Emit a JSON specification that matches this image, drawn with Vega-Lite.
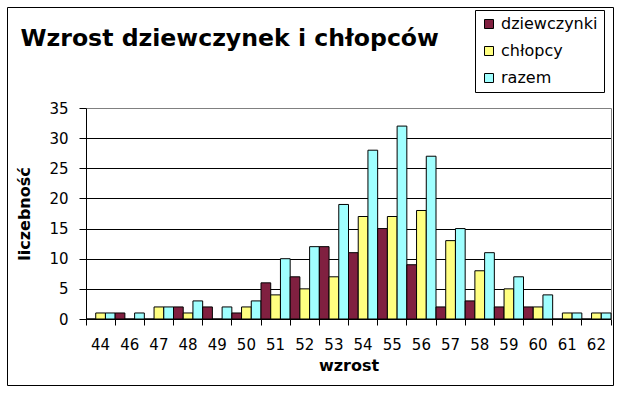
{
  "$schema": "https://vega.github.io/schema/vega-lite/v6.json",
  "width": 606,
  "height": 378,
  "autosize": {"type": "none"},
  "padding": {"left": 7, "top": 7, "right": 9, "bottom": 8},
  "background": "white",
  "data": {
    "values": [
      {"wzrost": "44", "grupa": "dziewczynki", "liczba": 0},
      {"wzrost": "44", "grupa": "chłopcy", "liczba": 1},
      {"wzrost": "44", "grupa": "razem", "liczba": 1},
      {"wzrost": "46", "grupa": "dziewczynki", "liczba": 1},
      {"wzrost": "46", "grupa": "chłopcy", "liczba": 0},
      {"wzrost": "46", "grupa": "razem", "liczba": 1},
      {"wzrost": "47", "grupa": "dziewczynki", "liczba": 0},
      {"wzrost": "47", "grupa": "chłopcy", "liczba": 2},
      {"wzrost": "47", "grupa": "razem", "liczba": 2},
      {"wzrost": "48", "grupa": "dziewczynki", "liczba": 2},
      {"wzrost": "48", "grupa": "chłopcy", "liczba": 1},
      {"wzrost": "48", "grupa": "razem", "liczba": 3},
      {"wzrost": "49", "grupa": "dziewczynki", "liczba": 2},
      {"wzrost": "49", "grupa": "chłopcy", "liczba": 0},
      {"wzrost": "49", "grupa": "razem", "liczba": 2},
      {"wzrost": "50", "grupa": "dziewczynki", "liczba": 1},
      {"wzrost": "50", "grupa": "chłopcy", "liczba": 2},
      {"wzrost": "50", "grupa": "razem", "liczba": 3},
      {"wzrost": "51", "grupa": "dziewczynki", "liczba": 6},
      {"wzrost": "51", "grupa": "chłopcy", "liczba": 4},
      {"wzrost": "51", "grupa": "razem", "liczba": 10},
      {"wzrost": "52", "grupa": "dziewczynki", "liczba": 7},
      {"wzrost": "52", "grupa": "chłopcy", "liczba": 5},
      {"wzrost": "52", "grupa": "razem", "liczba": 12},
      {"wzrost": "53", "grupa": "dziewczynki", "liczba": 12},
      {"wzrost": "53", "grupa": "chłopcy", "liczba": 7},
      {"wzrost": "53", "grupa": "razem", "liczba": 19},
      {"wzrost": "54", "grupa": "dziewczynki", "liczba": 11},
      {"wzrost": "54", "grupa": "chłopcy", "liczba": 17},
      {"wzrost": "54", "grupa": "razem", "liczba": 28},
      {"wzrost": "55", "grupa": "dziewczynki", "liczba": 15},
      {"wzrost": "55", "grupa": "chłopcy", "liczba": 17},
      {"wzrost": "55", "grupa": "razem", "liczba": 32},
      {"wzrost": "56", "grupa": "dziewczynki", "liczba": 9},
      {"wzrost": "56", "grupa": "chłopcy", "liczba": 18},
      {"wzrost": "56", "grupa": "razem", "liczba": 27},
      {"wzrost": "57", "grupa": "dziewczynki", "liczba": 2},
      {"wzrost": "57", "grupa": "chłopcy", "liczba": 13},
      {"wzrost": "57", "grupa": "razem", "liczba": 15},
      {"wzrost": "58", "grupa": "dziewczynki", "liczba": 3},
      {"wzrost": "58", "grupa": "chłopcy", "liczba": 8},
      {"wzrost": "58", "grupa": "razem", "liczba": 11},
      {"wzrost": "59", "grupa": "dziewczynki", "liczba": 2},
      {"wzrost": "59", "grupa": "chłopcy", "liczba": 5},
      {"wzrost": "59", "grupa": "razem", "liczba": 7},
      {"wzrost": "60", "grupa": "dziewczynki", "liczba": 2},
      {"wzrost": "60", "grupa": "chłopcy", "liczba": 2},
      {"wzrost": "60", "grupa": "razem", "liczba": 4},
      {"wzrost": "61", "grupa": "dziewczynki", "liczba": 0},
      {"wzrost": "61", "grupa": "chłopcy", "liczba": 1},
      {"wzrost": "61", "grupa": "razem", "liczba": 1},
      {"wzrost": "62", "grupa": "dziewczynki", "liczba": 0},
      {"wzrost": "62", "grupa": "chłopcy", "liczba": 1},
      {"wzrost": "62", "grupa": "razem", "liczba": 1}
    ]
  },
  "layer": [
    {
      "mark": {"type": "bar", "stroke": "black", "strokeWidth": 1},
      "encoding": {
        "x": {
          "field": "wzrost",
          "type": "nominal",
          "sort": null,
          "scale": {"range": [79, 604], "paddingInner": 0, "paddingOuter": 0},
          "axis": {
            "orient": "bottom",
            "offset": -66,
            "title": "wzrost",
            "labelAngle": 0,
            "ticks": false,
            "tickSize": 0,
            "domain": true,
            "domainColor": "black",
            "domainWidth": 1,
            "grid": false,
            "labelFont": "DejaVu Sans",
            "labelFontSize": 15,
            "labelColor": "black",
            "labelPadding": 18,
            "titleFont": "DejaVu Sans",
            "titleFontSize": 16,
            "titleFontWeight": "bold",
            "titleColor": "black",
            "titlePadding": 5
          }
        },
        "xOffset": {
          "field": "grupa",
          "type": "nominal",
          "sort": ["dziewczynki", "chłopcy", "razem"],
          "scale": {"paddingInner": 0, "paddingOuter": 0}
        },
        "y": {
          "field": "liczba",
          "type": "quantitative",
          "scale": {"domain": [0, 35], "range": [312, 101], "nice": false},
          "axis": {
            "orient": "left",
            "offset": -79,
            "values": [0, 5, 10, 15, 20, 25, 30, 35],
            "title": "liczebność",
            "grid": true,
            "gridColor": {"condition": {"test": "datum.value === 35", "value": "#808080"}, "value": "black"},
            "gridWidth": 1,
            "domain": true,
            "domainColor": "black",
            "ticks": true,
            "tickColor": "black",
            "tickSize": 7,
            "labelFont": "DejaVu Sans",
            "labelFontSize": 15,
            "labelColor": "black",
            "labelPadding": 11,
            "titleFont": "DejaVu Sans",
            "titleFontSize": 16,
            "titleFontWeight": "bold",
            "titleColor": "black",
            "titlePadding": 16
          }
        },
        "color": {
          "field": "grupa",
          "type": "nominal",
          "sort": ["dziewczynki", "chłopcy", "razem"],
          "scale": {"domain": ["dziewczynki", "chłopcy", "razem"], "range": ["#802040", "#FFFF80", "#A0FFFF"]},
          "legend": {
            "orient": "none",
            "legendX": 468,
            "legendY": 3,
            "title": null,
            "strokeColor": "black",
            "fillColor": "white",
            "padding": 6,
            "labelFont": "DejaVu Sans",
            "labelFontSize": 16,
            "labelColor": "black",
            "labelOffset": 4,
            "symbolType": "square",
            "symbolSize": 81,
            "symbolStrokeColor": "black",
            "symbolStrokeWidth": 1,
            "symbolOpacity": 1,
            "rowPadding": 11
          }
        }
      }
    },
    {
      "mark": {"type": "bar", "opacity": 0},
      "encoding": {
        "x": {
          "field": "wzrost",
          "type": "nominal",
          "sort": null,
          "axis": {
            "orient": "bottom",
            "offset": -66,
            "title": null,
            "labels": false,
            "domain": false,
            "grid": false,
            "ticks": true,
            "tickColor": "black",
            "tickSize": 6,
            "bandPosition": 0
          }
        },
        "y": {
          "field": "liczba",
          "type": "quantitative",
          "axis": {
            "orient": "right",
            "offset": -2,
            "title": null,
            "labels": false,
            "ticks": false,
            "grid": false,
            "domain": true,
            "domainColor": "#808080"
          }
        }
      }
    },
    {
      "mark": {"type": "bar", "opacity": 0},
      "encoding": {
        "x": {
          "field": "wzrost",
          "type": "nominal",
          "sort": null,
          "axis": {
            "orient": "bottom",
            "offset": -66,
            "title": null,
            "labels": false,
            "domain": false,
            "grid": false,
            "ticks": true,
            "tickColor": "black",
            "tickSize": 6,
            "bandPosition": 1,
            "values": ["62"]
          }
        },
        "y": {
          "field": "liczba",
          "type": "quantitative",
          "axis": null
        }
      }
    },
    {
      "mark": {"type": "bar", "opacity": 0},
      "encoding": {
        "x": {
          "field": "wzrost",
          "type": "nominal",
          "sort": null,
          "axis": {
            "orient": "top",
            "offset": 0,
            "title": "Wzrost dziewczynek i chłopców",
            "labels": false,
            "domain": false,
            "grid": false,
            "ticks": false,
            "titleX": 13,
            "titleY": 38,
            "titleAlign": "left",
            "titleAngle": 0,
            "titleBaseline": "alphabetic",
            "titleFont": "DejaVu Sans",
            "titleFontSize": 23.6,
            "titleFontWeight": "bold",
            "titleColor": "black"
          }
        },
        "y": {
          "field": "liczba",
          "type": "quantitative",
          "axis": null
        }
      }
    }
  ],
  "resolve": {"axis": {"x": "independent", "y": "independent"}},
  "config": {
    "view": {"stroke": "black", "strokeWidth": 1},
    "font": "DejaVu Sans"
  }
}
